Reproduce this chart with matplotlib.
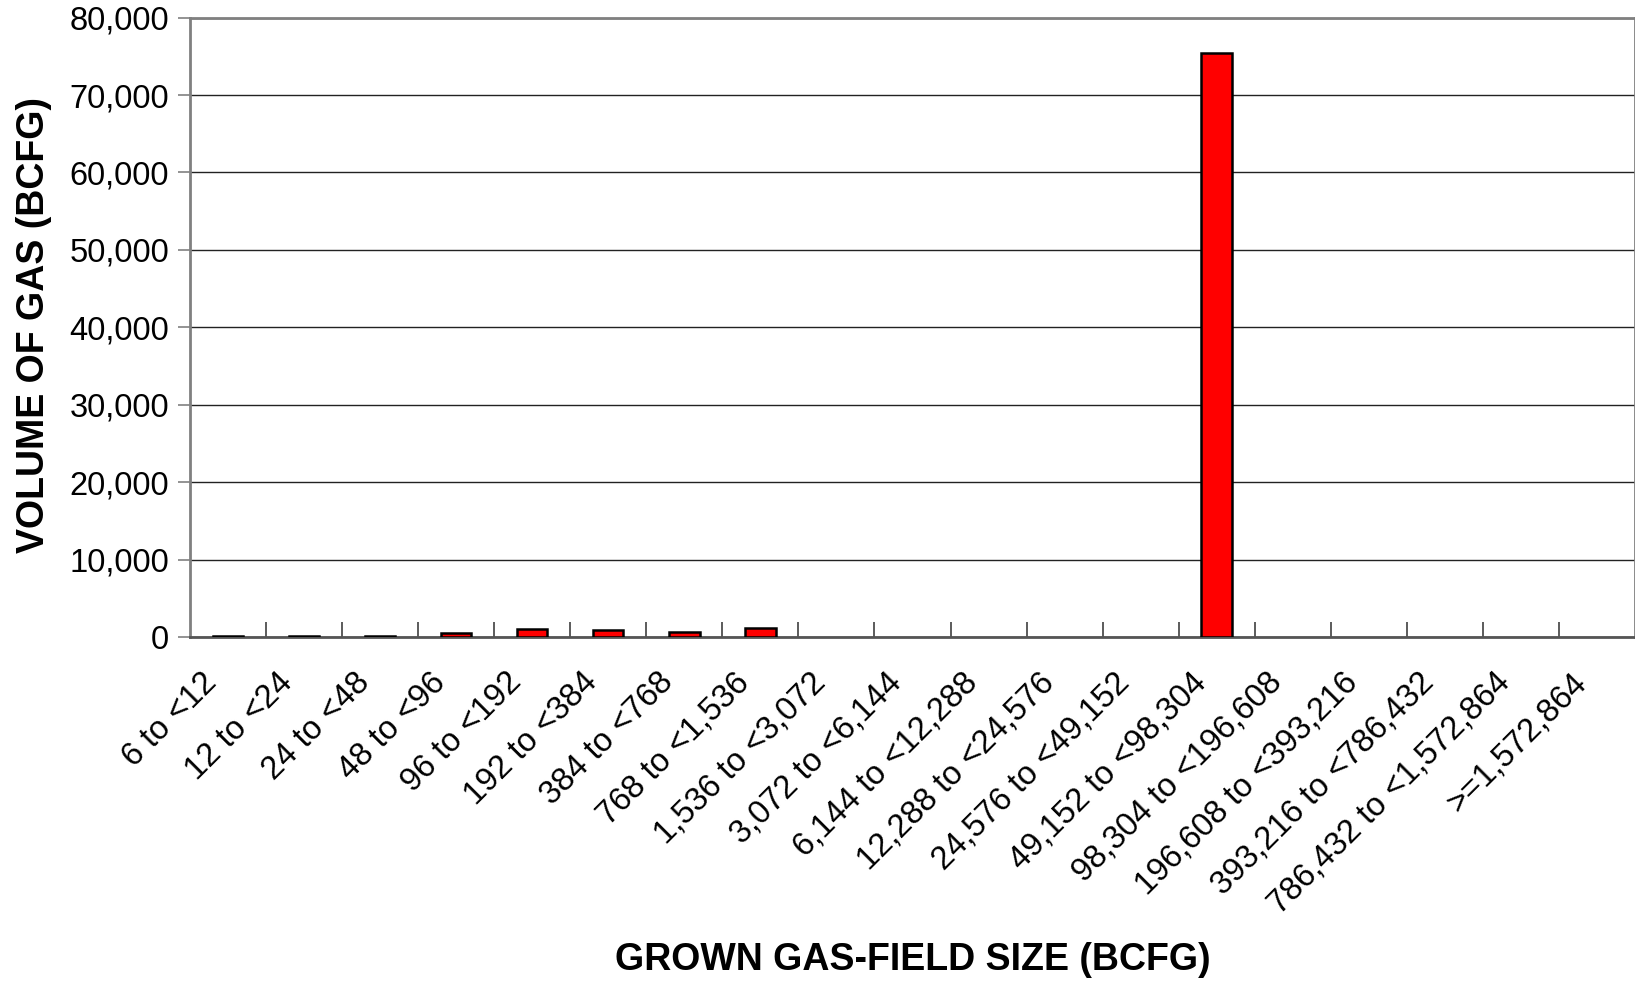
import matplotlib
matplotlib.use("Agg")
import matplotlib.pyplot as plt
import matplotlib.transforms as mtransforms
import numpy as np

plt.rcParams['font.family'] = ['Liberation Sans', 'DejaVu Sans']

categories = ["6 to <12", "12 to <24", "24 to <48", "48 to <96", "96 to <192",
              "192 to <384", "384 to <768", "768 to <1,536", "1,536 to <3,072",
              "3,072 to <6,144", "6,144 to <12,288", "12,288 to <24,576",
              "24,576 to <49,152", "49,152 to <98,304", "98,304 to <196,608",
              "196,608 to <393,216", "393,216 to <786,432",
              "786,432 to <1,572,864", ">=1,572,864"]
volumes = [100, 130, 150, 550, 1000, 850, 650, 1100, 0, 0, 0, 0, 0,
           75400, 0, 0, 0, 0, 0]
yticks = [0, 10000, 20000, 30000, 40000, 50000, 60000, 70000, 80000]

fig = plt.figure(figsize=(16.35, 9.81), dpi=100)
ax = fig.add_axes([0.1162, 0.3507, 0.8838, 0.6313])

x = np.arange(len(categories))
lws = [1.8 if v > 0 else 0 for v in volumes]
ax.bar(x, volumes, width=0.4, color='#ff0000', edgecolor='black', linewidth=lws, zorder=3)

ax.set_xlim(-0.5, len(categories) - 0.5)
ax.set_ylim(0, 80000)
ax.set_yticks(yticks)
ax.set_yticklabels([f"{v:,}" for v in yticks], fontsize=23.5)
ax.yaxis.grid(True, color='#222222', linewidth=1.0, zorder=0)

ax.set_xticks(x)
ax.set_xticklabels(categories, rotation=45, ha='right', rotation_mode='anchor', fontsize=23.5)
ax.tick_params(axis='x', which='major', length=0, pad=21.5)
offset = mtransforms.ScaledTranslation(-26.5 / 100, 0, fig.dpi_scale_trans)
for lab in ax.get_xticklabels():
    lab.set_transform(lab.get_transform() + offset)
ax.set_xticks(np.arange(0.5, len(categories) - 0.5, 1), minor=True)
ax.tick_params(axis='x', which='minor', direction='in', length=11, width=1.2, color='#404040')
ax.tick_params(axis='y', direction='out', length=9, width=1.2, color='#808080', pad=6)

for s in ax.spines.values():
    s.set_color('#808080')
    s.set_linewidth(2.0)
ax.spines['bottom'].set_color('#555555')

fig.text(0.5585, 0.021, "GROWN GAS-FIELD SIZE (BCFG)", fontsize=27, fontweight='bold',
         ha='center', va='center')
fig.text(0.021, 0.669, "VOLUME OF GAS (BCFG)", fontsize=27, fontweight='bold',
         ha='center', va='center', rotation=90)

fig.savefig("out.png", dpi=100)
